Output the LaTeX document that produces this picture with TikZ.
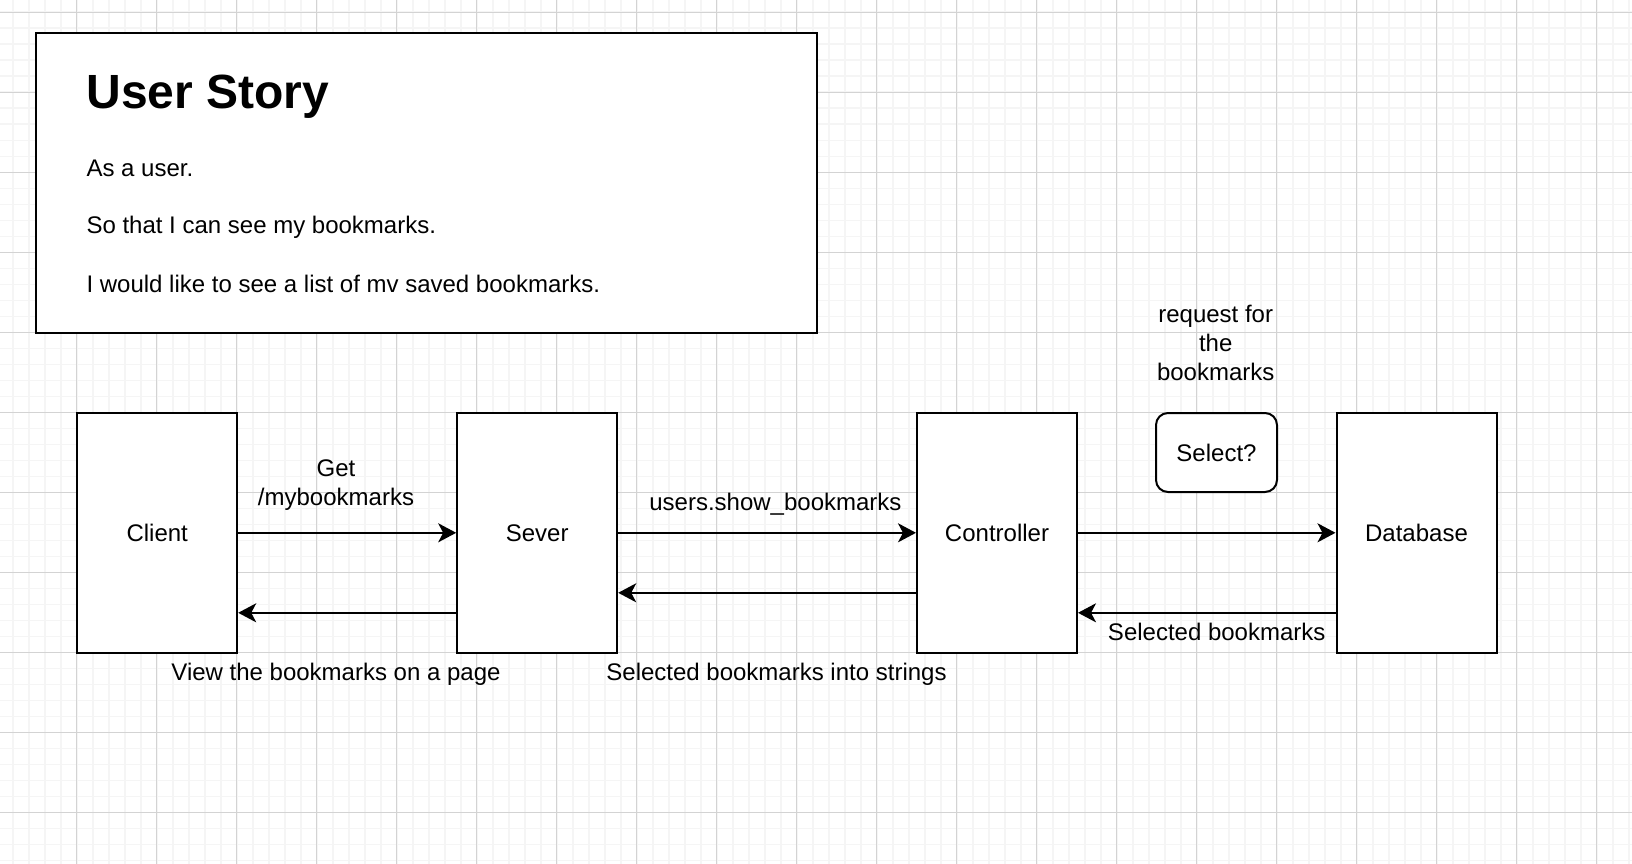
\documentclass[tikz,border=0pt]{standalone}
\usepackage{fontspec}
\setmainfont{Liberation Sans}
\usetikzlibrary{arrows.meta}

\definecolor{minorgrey}{HTML}{F5F5F5}
\definecolor{majorgrey}{HTML}{D3D3D3}

\begin{document}
\begin{tikzpicture}[
    x=1pt, y=-1pt,
    every node/.style={font=\fontsize{24}{29}\selectfont},
    minorline/.style={minorgrey, line width=1.6pt},
    majorline/.style={majorgrey, line width=1.4pt},
    proc/.style={rectangle, draw, line width=2pt, fill=white, minimum width=160pt, minimum height=239.6pt},
    query/.style={rectangle, draw, line width=2pt, fill=white, rounded corners=12pt, minimum width=121pt, minimum height=79pt},
    flow/.style={-{Stealth[length=18pt, width=19pt, inset=5pt]}, line width=2pt},
    lbl/.style={align=center}
]
    \useasboundingbox[fill=white] (0,0) rectangle (1632,864);

    % grid behind everything
    \foreach \gx in {12.7,28.7,...,1632} \draw[minorline] (\gx,0) -- (\gx,864);
    \foreach \gy in {12.3,28.3,...,864} \draw[minorline] (0,\gy) -- (1632,\gy);
    \foreach \gx in {76.7,156.7,...,1632} \draw[majorline] (\gx,0) -- (\gx,864);
    \foreach \gy in {12.3,92.3,...,864} \draw[majorline] (0,\gy) -- (1632,\gy);

    % user story box
    \node[rectangle, draw, line width=2pt, fill=white, minimum width=780.6pt, minimum height=299.7pt] (story) at (426.7,183.2) {};
    \node[anchor=west, font=\fontsize{48}{56}\selectfont\bfseries] (title) at (83,97) {User Story};
    \node[anchor=west] (line1) at (83,168.6) {As a user.};
    \node[anchor=west] (line2) at (83,226.8) {So that I can see my bookmarks.};
    \node[anchor=west] (line3) at (83,284) {I would like to see a list of mv saved bookmarks.};

    % components
    \node[proc] (client) at (157.2,532.8) {Client};
    \node[proc] (sever) at (537.2,532.8) {Sever};
    \node[proc] (controller) at (997,532.8) {Controller};
    \node[proc] (database) at (1416.5,532.8) {Database};
    \node[query] (select) at (1216.5,452.5) {Select?};

    % requests
    \draw[flow] (client) -- (sever);
    \draw[flow] (sever) -- (controller);
    \draw[flow] (controller) -- (database);

    % responses
    \draw[flow] ([yshift=-80pt]sever.west) -- ([yshift=-80pt]client.east);
    \draw[flow] ([yshift=-60pt]controller.west) -- ([yshift=-60pt]sever.east);
    \draw[flow] ([yshift=-80pt]database.west) -- ([yshift=-80pt]controller.east);

    % labels
    \node[lbl] (getlbl) at (336,485.2) {Get\\/mybookmarks};
    \node[lbl] (showlbl) at (775.4,504) {users.show\_bookmarks};
    \node[lbl] (reqlbl) at (1215.7,342.6) {request for\\the\\bookmarks};
    \node[lbl] (viewlbl) at (336,674) {View the bookmarks on a page};
    \node[lbl] (stringlbl) at (776.5,674.5) {Selected bookmarks into strings};
    \node[lbl] (sellbl) at (1216.7,632) {Selected bookmarks};
\end{tikzpicture}
\end{document}
